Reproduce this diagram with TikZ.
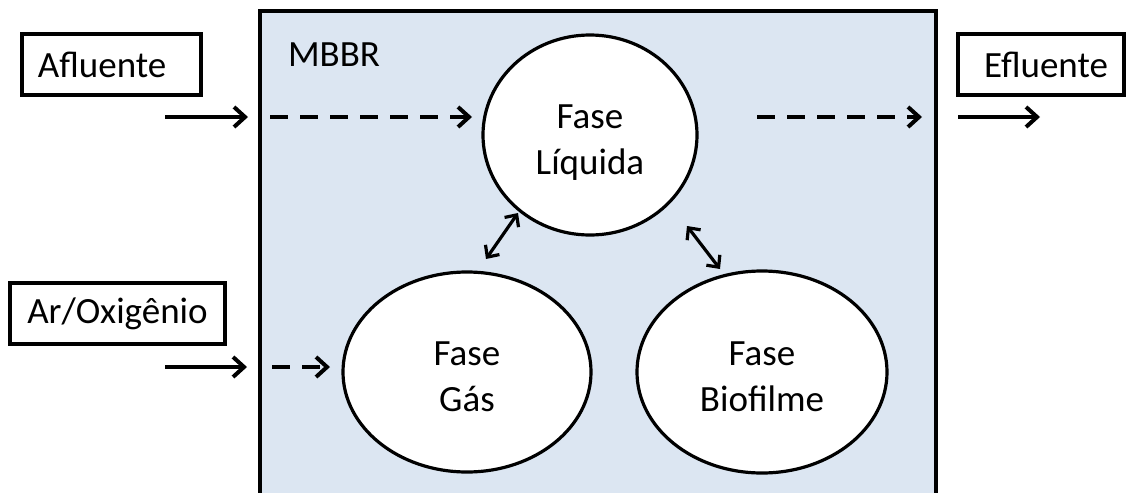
\documentclass[tikz,border=0pt]{standalone}
\usepackage{fontspec}
\setmainfont{Carlito}
\usetikzlibrary{positioning,arrows.meta,shapes.geometric}
\definecolor{reactorblue}{RGB}{220,230,242}
% two-line phase text, set a little below the middle of its ellipse
\newcommand{\phaselabel}[2]{\raisebox{-3.5pt}[\height][\depth]{\begin{tabular}{@{}c@{}}#1\\#2\end{tabular}}}

\begin{document}
\begin{tikzpicture}[x=0.5pt,y=-0.5pt,
  font=\fontsize{18.5}{23.3}\selectfont,
  phase/.style={ellipse,draw,line width=1.6pt,fill=white,inner sep=0pt},
  labelbox/.style={draw,line width=1.8pt,minimum height=30.5pt,inner ysep=0pt,inner xsep=8pt},
  flow/.style={line width=2pt,-{Straight Barb[length=5.5pt,width=10pt]}},
  dflow/.style={flow,dash pattern=on 9pt off 6pt},
  exchange/.style={line width=1.6pt,{Straight Barb[length=4.5pt,width=8.5pt]}-{Straight Barb[length=4.5pt,width=8.5pt]}}]
  \useasboundingbox (0,0) rectangle (1131,493);

  % Reactor, open at the bottom of the figure.
  \fill[reactorblue] (260,11) rectangle (936,493);
  \draw[line width=2pt] (260,493) -- (260,11) -- (936,11) -- (936,493);
  \node[anchor=west] (mbbr) at (281,55) {MBBR};

  \node[labelbox,text width=73.5pt,align=left] (afl) at (111.5,64.5) {Afluente};
  \node[labelbox,text width=67pt,align=right] (efl) at (1041,64.5) {Efluente};
  \node[labelbox,inner xsep=0pt,minimum width=107.5pt] (ar) at (117.5,313.5) {Ar/Oxigênio};

  \node[phase,minimum width=107pt,minimum height=100pt] (liq) at (590,135) {\phaselabel{Fase}{Líquida}};
  \node[phase,minimum width=124pt,minimum height=100pt] (gas) at (467,372) {\phaselabel{Fase}{Gás}};
  \node[phase,minimum width=125pt,minimum height=101pt] (bio) at (762,372) {\phaselabel{Fase}{Biofilme}};

  \coordinate (afl0) at (165,117);
  \coordinate (afl1) at (248,117);
  \coordinate (afl2) at (270,117);
  \coordinate (liqin) at (472,117);
  \coordinate (liqout) at (757,117);
  \coordinate (efl0) at (922,117);
  \coordinate (efl1) at (958,117);
  \coordinate (efl2) at (1040,117);
  \coordinate (ar0) at (165,367);
  \coordinate (ar1) at (247,367);
  \coordinate (ar2) at (272,367);
  \coordinate (gasin) at (330,367);

  % Flows in and out of the reactor.
  \draw[flow] (afl0) -- (afl1);
  \draw[dflow] (afl2) -- (liqin);
  \draw[dflow] (liqout) -- (efl0);
  \draw[flow] (efl1) -- (efl2);
  \draw[flow] (ar0) -- (ar1);
  \draw[dflow] (ar2) -- (gasin);

  % Exchange between the phases.
  \coordinate (lg0) at (518,213);
  \coordinate (lg1) at (486,259);
  \coordinate (lb0) at (687,226);
  \coordinate (lb1) at (720,269);
  \draw[exchange] (lg0) -- (lg1);
  \draw[exchange] (lb0) -- (lb1);
\end{tikzpicture}
\end{document}
